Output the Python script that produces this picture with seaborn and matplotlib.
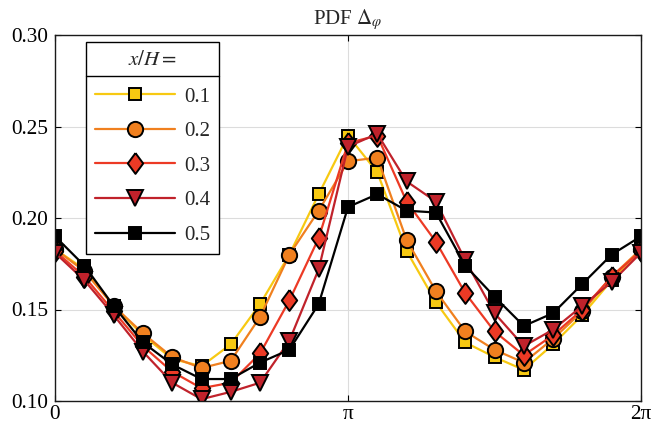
import numpy as np
import pandas as pd
import matplotlib
matplotlib.use("Agg")
import matplotlib.pyplot as plt
import seaborn as sns
from matplotlib.lines import Line2D

# ---- data ----
phi_steps = list(range(21))           # bin index, phi = k*pi/10
phi = np.array(phi_steps) * np.pi / 10
labels = ["0.1", "0.2", "0.3", "0.4", "0.5"]
pdf_01 = [0.183, 0.172, 0.152, 0.136, 0.123, 0.119, 0.131, 0.153, 0.180, 0.213, 0.245,
          0.225, 0.182, 0.154, 0.132, 0.124, 0.117, 0.131, 0.147, 0.166, 0.183]
pdf_02 = [0.183, 0.171, 0.152, 0.137, 0.124, 0.118, 0.122, 0.146, 0.180, 0.204, 0.231,
          0.233, 0.188, 0.160, 0.138, 0.128, 0.121, 0.134, 0.149, 0.168, 0.183]
pdf_03 = [0.182, 0.168, 0.149, 0.130, 0.116, 0.107, 0.110, 0.126, 0.155, 0.189, 0.241,
          0.245, 0.209, 0.187, 0.159, 0.138, 0.125, 0.136, 0.150, 0.168, 0.182]
pdf_04 = [0.181, 0.166, 0.147, 0.127, 0.110, 0.101, 0.105, 0.110, 0.133, 0.172, 0.239,
          0.246, 0.220, 0.209, 0.177, 0.148, 0.130, 0.139, 0.152, 0.165, 0.181]
pdf_05 = [0.190, 0.174, 0.152, 0.132, 0.120, 0.112, 0.112, 0.121, 0.128, 0.153, 0.206,
          0.213, 0.204, 0.203, 0.174, 0.157, 0.141, 0.148, 0.164, 0.180, 0.190]
series = [pdf_01, pdf_02, pdf_03, pdf_04, pdf_05]
xticks_labels = ["0", "π", "2π"]
yticks = [0.10, 0.15, 0.20, 0.25, 0.30]

# ---- styles ----
colors = ["#F7C912", "#F0801F", "#EC3A25", "#C0222B", "#000000"]
diamond = [(0, 1), (0.74, 0), (0, -1), (-0.74, 0), (0, 1)]
markers = ["s", "o", diamond, "v", "s"]
msizes = [8.5, 11.0, 15.0, 11.5, 8.5]

sns.set_style("ticks")
plt.rcParams["font.family"] = ["Liberation Serif", "DejaVu Serif"]
plt.rcParams["mathtext.fontset"] = "stix"
plt.rcParams["font.size"] = 15

fig = plt.figure(figsize=(6.52, 4.29), dpi=100)
ax = fig.add_axes([55 / 652, 1 - 401 / 429, (641 - 55) / 652, (401 - 35) / 429])

for lab, vals, c, m, ms in zip(labels, series, colors, markers, msizes):
    df = pd.DataFrame({"phi": phi, "pdf": vals})
    sns.lineplot(data=df, x="phi", y="pdf", ax=ax, color=c, marker=m,
                 markersize=ms, markerfacecolor=c, markeredgecolor="black",
                 markeredgewidth=1.4, linewidth=1.6, label=lab)

ax.set_xlim(0, 2 * np.pi)
ax.set_ylim(0.10, 0.30)
ax.set_xticks([0, np.pi, 2 * np.pi])
ax.set_xticklabels(xticks_labels)
ax.set_yticks(yticks)
ax.set_yticklabels([f"{v:.2f}" for v in yticks])
ax.set_xlabel("")
ax.set_ylabel("")
ax.grid(True, color="#DCDCDC", linewidth=0.8)
ax.set_axisbelow(True)
ax.tick_params(direction="in", length=4, width=0.8, top=True, right=True,
               labelsize=15.3, colors="black")
ax.tick_params(axis="x", pad=3)
ax.tick_params(axis="y", pad=5)
for s in ax.spines.values():
    s.set_visible(True)
    s.set_color("#1a1a1a")
    s.set_linewidth(1.0)

ax.set_title(r"PDF $\mathit{\Delta}_{\varphi}$", fontsize=15, pad=8)

leg = ax.legend(title=r"$x/H =$", loc="upper left",
                bbox_to_anchor=(31 / 586, 1 - 7 / 366), frameon=True,
                fancybox=False, shadow=False, framealpha=1, edgecolor="black",
                fontsize=15, title_fontsize=15, handlelength=3.8,
                handletextpad=0.45, labelspacing=0.72, borderpad=0.45,
                borderaxespad=0)
leg.get_frame().set_linewidth(1.0)
leg._legend_box.sep = 12

fig.canvas.draw()
renderer = fig.canvas.get_renderer()
fb = leg.get_frame().get_window_extent(renderer)
tb = leg.get_title().get_window_extent(renderer)
ysep = tb.y0 - 6
inv = fig.transFigure.inverted()
(x0, y0) = inv.transform((fb.x0, ysep))
(x1, _) = inv.transform((fb.x1, ysep))
fig.add_artist(Line2D([x0, x1], [y0, y0], transform=fig.transFigure,
                      color="black", linewidth=1.0, zorder=10))

fig.savefig("out.png", dpi=100)
